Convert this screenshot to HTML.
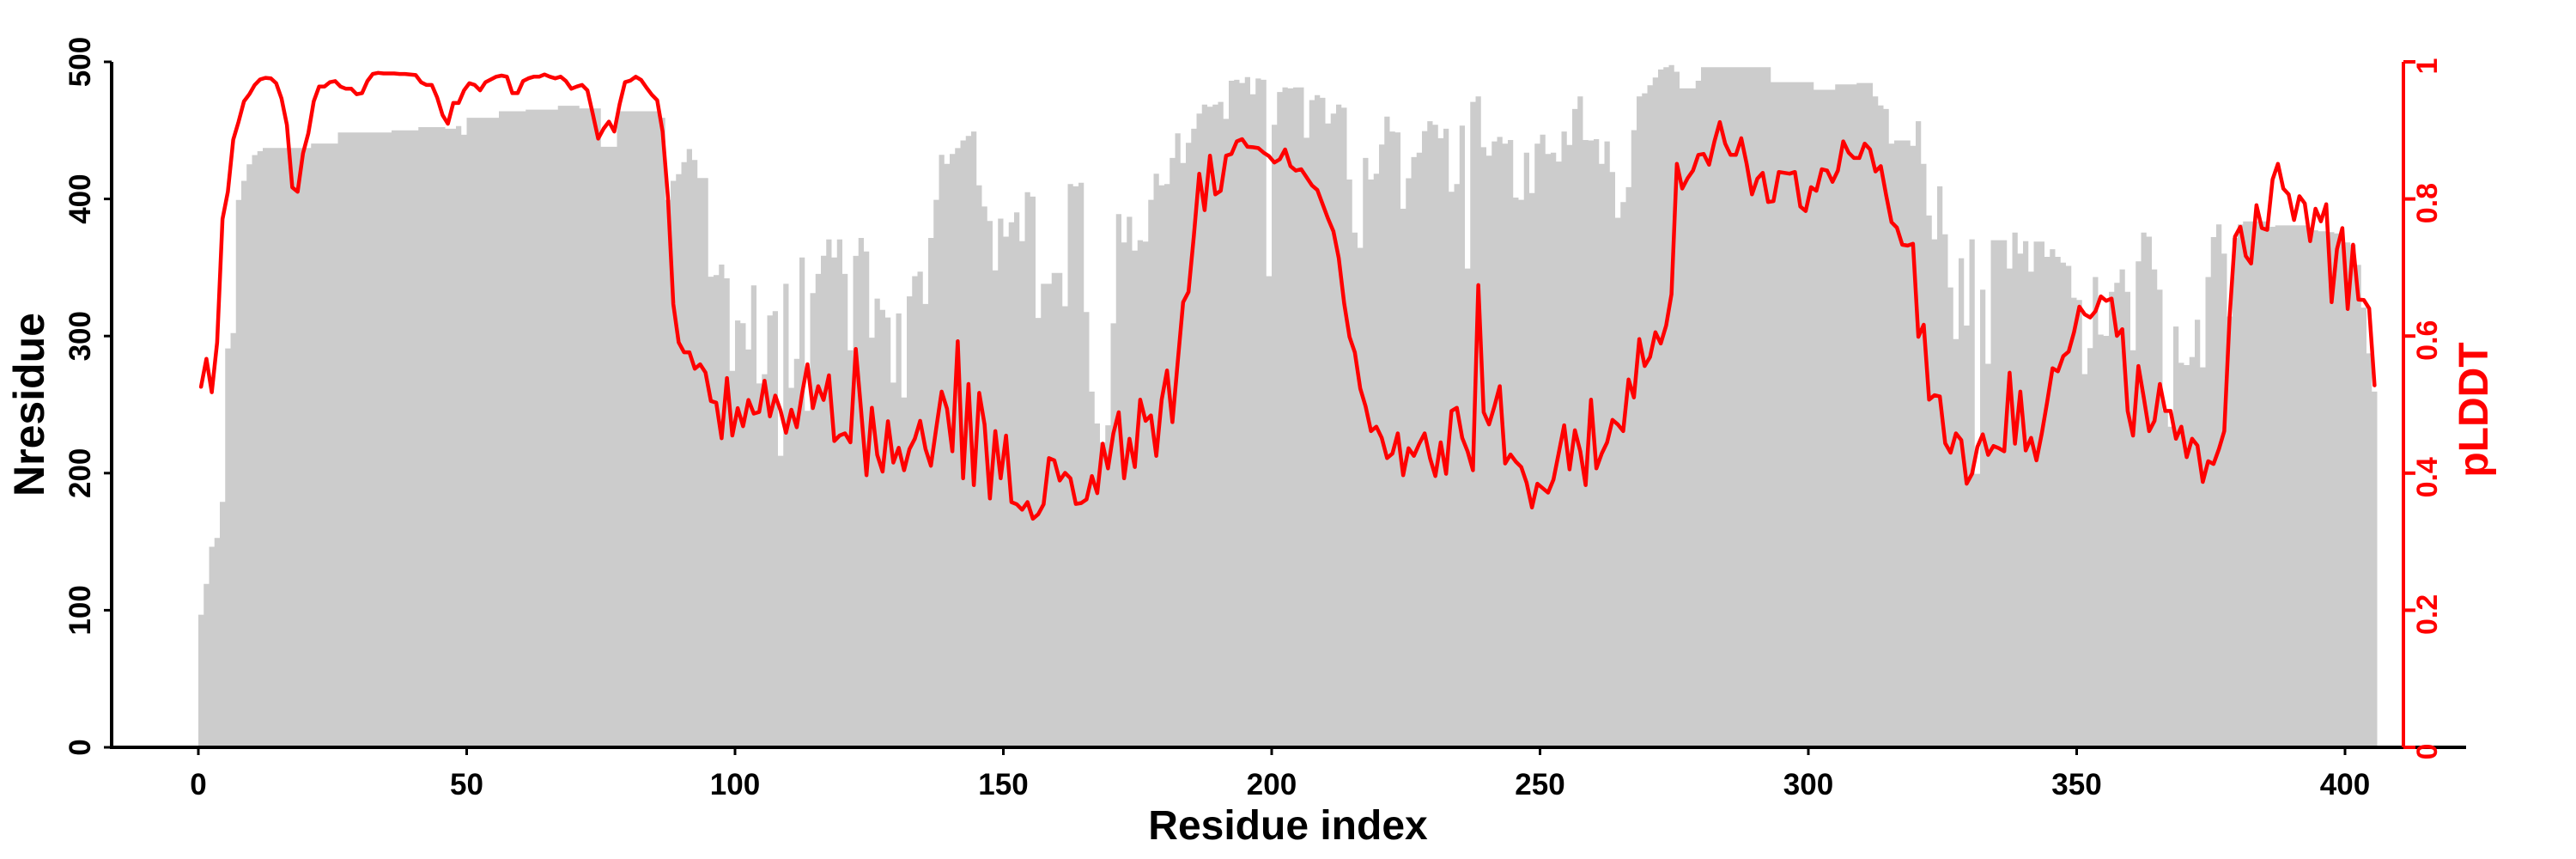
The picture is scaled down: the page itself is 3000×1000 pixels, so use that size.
<!DOCTYPE html>
<html><head><meta charset="utf-8"><style>
html,body{margin:0;padding:0;background:#fff;}
svg{display:block;}
text{font-family:"Liberation Sans",Arial,sans-serif;font-weight:bold;}
</style></head><body>
<svg id="s" width="3000" height="1000" viewBox="0 0 3000 1000" xmlns="http://www.w3.org/2000/svg">
<path id="bars" fill="#cccccc" stroke="none" d=""/>
<path id="line" fill="none" stroke="#ff0000" stroke-width="4.5" stroke-linejoin="round" stroke-linecap="round" d=""/>
<g stroke="#000" stroke-width="4" fill="none">
<line x1="130" y1="870" x2="2872" y2="870"/>
<line x1="130" y1="72" x2="130" y2="872"/>
</g>
<g id="ticks" stroke="#000" stroke-width="3"></g>
<g id="rt" stroke="#ff0000" stroke-width="4"><line x1="2799" y1="72" x2="2799" y2="870"/></g>
<g id="lbl"></g>
<text x="1500" y="977" font-size="48" text-anchor="middle" fill="#000">Residue index</text>
<text transform="translate(51,471) rotate(-90)" font-size="50" text-anchor="middle" fill="#000">Nresidue</text>
<text transform="translate(2897,477) rotate(-90)" font-size="48" text-anchor="middle" fill="#ff0000">pLDDT</text>
</svg>
<script>
(function(){
var NS="http://www.w3.org/2000/svg";
function c1(v){return v/1.568;}
function c2(v){return 60+v*0.52296;}
var bA=[1122,1066,998,982,916,636,608,365,330,300,283,276];
for(var i=0;i<9;i++)bA.push(270);for(i=0;i<5;i++)bA.push(262);for(i=0;i<10;i++)bA.push(242);
for(i=0;i<5;i++)bA.push(238);for(i=0;i<5;i++)bA.push(232);bA.push(235,235,230,246);
for(i=0;i<6;i++)bA.push(215);for(i=0;i<5;i++)bA.push(203);for(i=0;i<6;i++)bA.push(200);
for(i=0;i<4;i++)bA.push(193);for(i=0;i<4;i++)bA.push(198);for(i=0;i<3;i++)bA.push(268);
for(i=0;i<8;i++)bA.push(203);
bA.push(215,365,330,318,296,272,292,325,325,505,502,483,508,677,585,590,638,521,700,683,576,568,832,518,708,655,470,750,535,500,467,437,470,437);
var lA=[706,655,716,625,400,350,255,222,185,172,155,145,142,143,152,180,228,342,350,280,243,185,158,158,150,148,158,162,162,172,170,148,135,133,134,134,134,135,135,136,137,150,155,155,178,210,226,188,188,165,152,155,165,150,145,140,138,140,170,170,148,143,140,140,136,140,143,140,148,162,158,155,165,208,253,235,222,240,190,150,147,140,146,160,173,183,240,360,555,625,643,643,673,665,680,732,735,800,690,795,745,778,730,755,752,695,760,722,750,790,748,780,718,665,745,705,730,685,805,795];
var bB=[495,665,455,415,445,637,550,575,592,737,583,770,545,500,490,562,415,330,230,250,228,215,198,188,178,298,345,377,487,372,412,380,358,422,313,323,593,517,517,493,493,567,295,300,292,580,757,828,870,832,605,362,425,368,443,420,423,330,272,298,295,237,182,248,203,172,138,118,123,118,112,150,65];
var lB=[850,870,662,800,943,793,898,935,823,915,882,932,885,862,822,885,922,838,757,795,890,645,950,740,965,760,830,995,845,950,855,1003,1008,1020,1003,1040,1030,1008,905,910,955,938,950,1007,1005,997,945,983,873,928,850,803,950,862,925,775,822,810,900,775,710,825,690,558,535,410,272,353,232,318,310,232];
var bC=[63,70,57,95,60,63,500,163,90,80,82,80,80,192,108,97,103,160,138,118,125,285,403,437,237,285,272,207,145,178,180,350,282,235,225,177,155,163,193,172,312,295,165,483,112,100,213,232,200,190,205,197,325,330,225,315,205,185,228,225,245,178,208,128,100,197,198,195,250,200,268];
var lC=[228,200,195,212,213,215,225,233,247,240,218,255,265,262,280,298,308,340,372,400,460,560,635,670,750,790,845,835,860,905,895,850,943,883,900,873,850,905,945,870,940,800,793,860,890,932,520,803,830,790,745,917,897,913,925,960,1015,962,972,982,953,893,832,930,843,890,965,775,928,895,870,820];
var bD=[370,335,302,175,100,93,75,58,40,35,30,45,82,82,82,65,35,35,35,35,35,35,35,35,35,35,35,35,35,68,68,68,68,68,68,68,68,85,85,85,85,73,73,73,73,70,70,70,100,120,128,205,198,198,198,210,155,250,365,418,300,407,525,640,460,610,418,940,530,695,420,420];
var lD=[830,845,730,770,640,700,680,625,650,610,540,250,305,282,265,230,228,252,200,157,205,230,230,193,250,318,283,270,335,333,268,270,272,268,345,355,302,310,262,265,290,265,200,225,237,237,205,218,267,255,320,380,392,430,432,428,635,608,775,765,768,872,893,850,865,962,940,880,852,898,878,883];
var bE=[420,483,403,450,422,490,423,423,457,440,457,470,477,548,553,718,660,502,630,633,535,515,485,535,665,467,403,412,485,530,800,835,612,693,698,680,597,703,502,413,385,450,590,415,385,378,378,378,378,378,390,387,387,387,387,387,387,397,398,400,400,402,405,420,425,430,475,570,672,757];
var lE=[890,715,873,757,888,860,910,850,780,705,712,678,668,625,568,585,592,578,545,555,550,633,618,800,855,700,770,845,822,740,800,800,862,835,903,862,877,958,912,918,885,845,590,412,390,455,472,342,393,397,285,250,305,318,375,322,338,422,350,378,340,558,440,393,573,430,552,553,572,743];
var bars=[],line=[];
bA.forEach(function(v){bars.push(c1(v));});
[bB,bC,bD,bE].forEach(function(a){a.forEach(function(v){bars.push(c2(v));});});
lA.forEach(function(v){line.push(c1(v));});
[lB,lC,lD,lE].forEach(function(a){a.forEach(function(v){line.push(c2(v));});});
var X0=231,W=6.25;
var d="M"+X0+",870";
for(var k=0;k<bars.length;k++){var x=X0+W*k;d+=" L"+x.toFixed(2)+","+bars[k].toFixed(1)+" L"+(x+W).toFixed(2)+","+bars[k].toFixed(1);}
d+=" L"+(X0+W*bars.length).toFixed(2)+",870 Z";
document.getElementById("bars").setAttribute("d",d);
var p="";
for(k=0;k<line.length;k++){p+=(k?" L":"M")+(X0+W*(k+0.5)).toFixed(2)+","+line[k].toFixed(1);}
document.getElementById("line").setAttribute("d",p);
var tg=document.getElementById("ticks"),rt=document.getElementById("rt"),lg=document.getElementById("lbl");
function el(n,a,par,t){var e=document.createElementNS(NS,n);for(var q in a)e.setAttribute(q,a[q]);if(t!==undefined)e.textContent=t;par.appendChild(e);return e;}
for(k=0;k<=8;k++){var x=X0+312.5*k;el("line",{x1:x,y1:870,x2:x,y2:879},tg);
 el("text",{x:x,y:925,"font-size":35,"text-anchor":"middle",fill:"#000"},lg,String(50*k));}
var rl=["0","0.2","0.4","0.6","0.8","1"];
for(k=0;k<=5;k++){var y=870-159.6*k;el("line",{x1:121,y1:y,x2:130,y2:y},tg);
 el("text",{transform:"translate(105,"+y+") rotate(-90)","font-size":35,"text-anchor":"middle",fill:"#000"},lg,String(100*k));
 el("line",{x1:2799,y1:y,x2:2813,y2:y},rt);
 el("text",{transform:"translate(2838,"+(y+5)+") rotate(-90)","font-size":34,"text-anchor":"middle",fill:"#ff0000"},lg,rl[k]);}
})();
</script>
</body></html>
